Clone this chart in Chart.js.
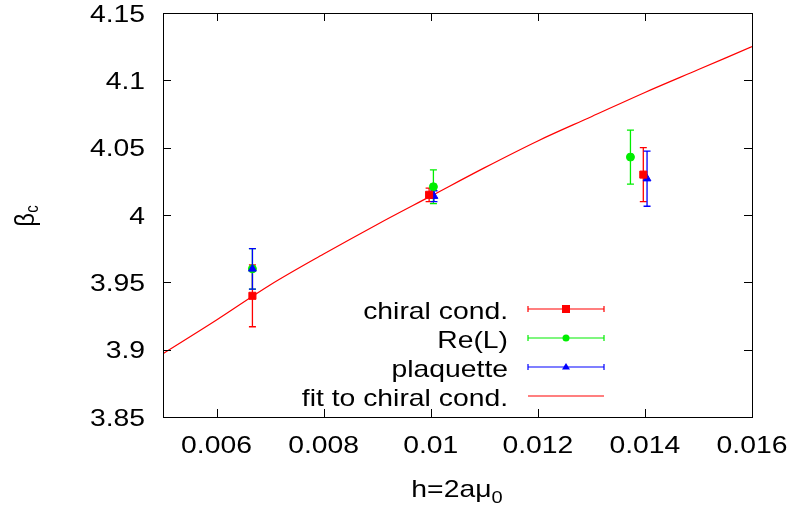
<!DOCTYPE html>
<html>
<head>
<meta charset="utf-8">
<script src="https://cdn.jsdelivr.net/npm/chart.js@4.4.1/dist/chart.umd.min.js"></script>
<style>
  html, body { margin: 0; padding: 0; background: #fff; }
</style>
</head>
<body>
<canvas id="chart" width="796" height="509"></canvas>
<script>
// values
const chiralX = [0.00667, 0.00997, 0.01397];
const chiralY = [3.940, 4.015, 4.030];
const chiralErr = [0.023, 0.005, 0.020];

const reLX = [0.00667, 0.01005, 0.01373];
const reLY = [3.960, 4.021, 4.043];
const reLErr = [0.015, 0.0125, 0.020];

const plaqX = [0.00667, 0.01006, 0.01404];
const plaqY = [3.960, 4.014, 4.027];
const plaqErr = [0.015, 0.004, 0.0205];

const fitX = [0.005, 0.006, 0.007, 0.008, 0.009, 0.010, 0.011, 0.012, 0.013, 0.014, 0.015, 0.016];
const fitY = [3.897, 3.922, 3.948, 3.971, 3.993, 4.014, 4.035, 4.055, 4.073, 4.091, 4.108, 4.125];

const xTicks = [0.006, 0.008, 0.010, 0.012, 0.014, 0.016];
const yTicks = [3.85, 3.90, 3.95, 4.00, 4.05, 4.10, 4.15];

const RED = '#ff0000';
const GREEN = '#00ee00';
const BLUE = '#0000ff';
const FONT = '"Liberation Sans", Arial, sans-serif';
const SX = 1.18; // the original text is a bit wider than Arial

const pts = (xs, ys, es) => xs.map((x, i) => ({ x: x, y: ys[i], err: es ? es[i] : 0 }));

const data = {
  datasets: [
    {
      label: 'chiral cond.', data: pts(chiralX, chiralY, chiralErr),
      backgroundColor: RED, borderColor: RED, pointStyle: 'rect', pointRadius: 5, order: 1,
    },
    {
      label: 'Re(L)', data: pts(reLX, reLY, reLErr),
      backgroundColor: GREEN, borderColor: GREEN, pointStyle: 'circle', pointRadius: 4, order: 3,
    },
    {
      label: 'plaquette', data: pts(plaqX, plaqY, plaqErr),
      backgroundColor: BLUE, borderColor: BLUE, pointStyle: 'triangle', pointRadius: 4.5, order: 2,
    },
    {
      label: 'fit to chiral cond.', type: 'line', data: pts(fitX, fitY),
      borderColor: RED, borderWidth: 1.2, pointRadius: 0, showLine: true,
      cubicInterpolationMode: 'monotone', fill: false, order: 10,
    },
  ],
};

// draw text stretched horizontally
function wideText(ctx, text, x, y, align, size) {
  ctx.save();
  ctx.font = size + 'px ' + FONT;
  ctx.textAlign = align;
  ctx.textBaseline = 'alphabetic';
  ctx.translate(x, y);
  ctx.scale(SX, 1);
  ctx.fillText(text, 0, 0);
  ctx.restore();
}
function textWidth(ctx, text, size) {
  ctx.font = size + 'px ' + FONT;
  return ctx.measureText(text).width * SX;
}

const fmt = (v) => String(parseFloat(Number(v).toFixed(4)));

const gnuplotLook = {
  id: 'gnuplotLook',
  beforeDatasetsDraw(c) {
    const ctx = c.ctx;
    const xs = c.scales.x, ys = c.scales.y;
    ctx.save();
    c.data.datasets.forEach((ds) => {
      if (ds.type === 'line') return;
      ctx.strokeStyle = ds.borderColor;
      ctx.lineWidth = 1.3;
      ds.data.forEach((p) => {
        const px = xs.getPixelForValue(p.x);
        const y1 = ys.getPixelForValue(p.y + p.err);
        const y2 = ys.getPixelForValue(p.y - p.err);
        ctx.beginPath();
        ctx.moveTo(px, y1); ctx.lineTo(px, y2);
        ctx.moveTo(px - 3.5, y1); ctx.lineTo(px + 3.5, y1);
        ctx.moveTo(px - 3.5, y2); ctx.lineTo(px + 3.5, y2);
        ctx.stroke();
      });
    });
    ctx.restore();
  },
  afterDraw(c) {
    const ctx = c.ctx;
    const a = c.chartArea;
    const xs = c.scales.x, ys = c.scales.y;
    ctx.save();
    // frame and ticks on all four sides, pointing inward
    ctx.strokeStyle = '#000';
    ctx.lineWidth = 1;
    ctx.strokeRect(a.left + 0.5, a.top + 0.5, a.right - a.left, a.bottom - a.top);
    ctx.beginPath();
    xTicks.forEach((v) => {
      const px = Math.round(xs.getPixelForValue(v)) + 0.5;
      ctx.moveTo(px, a.bottom); ctx.lineTo(px, a.bottom - 8);
      ctx.moveTo(px, a.top); ctx.lineTo(px, a.top + 8);
    });
    yTicks.forEach((v) => {
      const py = Math.round(ys.getPixelForValue(v)) + 0.5;
      ctx.moveTo(a.left, py); ctx.lineTo(a.left + 8, py);
      ctx.moveTo(a.right, py); ctx.lineTo(a.right - 8, py);
    });
    ctx.stroke();

    ctx.fillStyle = '#000';
    // tick labels
    xTicks.forEach((v) => {
      wideText(ctx, fmt(v), xs.getPixelForValue(v), 453, 'center', 24);
    });
    yTicks.forEach((v) => {
      wideText(ctx, fmt(v), 145, ys.getPixelForValue(v) + 8.5, 'right', 24);
    });

    // x title: h=2aμ0
    const main = 'h=2a\u03bc';
    const w1 = textWidth(ctx, main, 24);
    const w2 = textWidth(ctx, '0', 17);
    const sx = 457 - (w1 + w2) / 2;
    wideText(ctx, main, sx, 497, 'left', 24);
    wideText(ctx, '0', sx + w1, 503, 'left', 17);

    // y title: βc (rotated)
    ctx.save();
    ctx.translate(34, 216);
    ctx.rotate(-Math.PI / 2);
    ctx.scale(1, SX);
    ctx.font = '24px ' + FONT;
    ctx.textAlign = 'left';
    ctx.textBaseline = 'alphabetic';
    const b1 = ctx.measureText('\u03b2').width;
    ctx.font = '15px ' + FONT;
    const b2 = ctx.measureText('c').width;
    const bx = -(b1 + b2) / 2;
    ctx.font = '24px ' + FONT;
    ctx.fillText('\u03b2', bx, 0);
    ctx.font = '15px ' + FONT;
    ctx.fillText('c', bx + b1, 3);
    ctx.restore();

    // legend
    const rows = [309, 338, 367, 396];
    c.data.datasets.forEach((ds, i) => {
      const ry = rows[i];
      ctx.fillStyle = '#000';
      wideText(ctx, ds.label, 508, ry + 9.5, 'right', 24);
      ctx.strokeStyle = ds.borderColor;
      ctx.lineWidth = 1.2;
      ctx.beginPath();
      ctx.moveTo(528, ry); ctx.lineTo(604, ry);
      if (ds.type !== 'line') {
        ctx.moveTo(528, ry - 3); ctx.lineTo(528, ry + 3);
        ctx.moveTo(604, ry - 3); ctx.lineTo(604, ry + 3);
      }
      ctx.stroke();
      ctx.fillStyle = ds.backgroundColor;
      if (ds.pointStyle === 'rect') {
        ctx.fillRect(562, ry - 4, 8, 8);
      } else if (ds.pointStyle === 'circle') {
        ctx.beginPath(); ctx.arc(566, ry, 3.5, 0, Math.PI * 2); ctx.fill();
      } else if (ds.pointStyle === 'triangle') {
        ctx.beginPath();
        ctx.moveTo(566, ry - 4); ctx.lineTo(570, ry + 2.5); ctx.lineTo(562, ry + 2.5);
        ctx.closePath(); ctx.fill();
      }
    });
    ctx.restore();
  },
};

new Chart(document.getElementById('chart'), {
  type: 'scatter',
  data: data,
  options: {
    responsive: false,
    animation: false,
    layout: { padding: { top: 13, right: 44, left: 0, bottom: 0 } },
    scales: {
      x: {
        type: 'linear', min: 0.005, max: 0.016,
        afterBuildTicks: (s) => { s.ticks = xTicks.map((v) => ({ value: v })); },
        afterFit: (s) => { s.height = 92; },
        grid: { display: false, drawTicks: false },
        border: { display: false },
        ticks: { display: false },
      },
      y: {
        type: 'linear', min: 3.85, max: 4.15,
        afterBuildTicks: (s) => { s.ticks = yTicks.map((v) => ({ value: v })); },
        afterFit: (s) => { s.width = 163; },
        grid: { display: false, drawTicks: false },
        border: { display: false },
        ticks: { display: false },
      },
    },
    plugins: {
      legend: { display: false },
      tooltip: { enabled: false },
    },
  },
  plugins: [gnuplotLook],
});
</script>
</body>
</html>
